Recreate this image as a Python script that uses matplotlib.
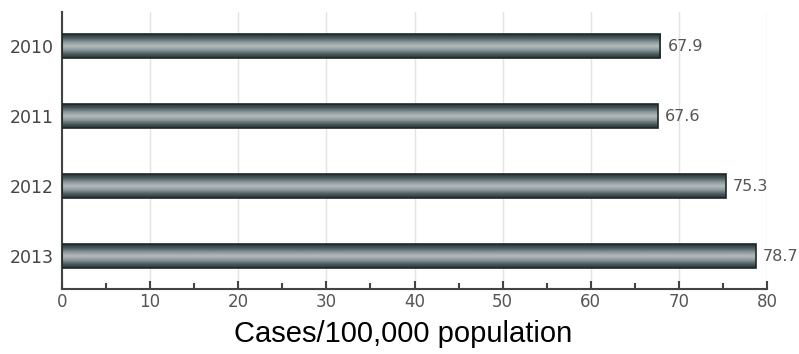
import matplotlib.pyplot as plt
import numpy as np
from matplotlib.colors import LinearSegmentedColormap

years = ['2010', '2011', '2012', '2013']
rates = [67.9, 67.6, 75.3, 78.7]

plt.rcParams['font.family'] = ['DejaVu Sans']

fig = plt.figure(figsize=(7.99, 3.54), dpi=100)
ax = fig.add_axes([0.0776, 0.1836, 0.8824, 0.7824])

# metallic look: dark at the edges, lighter in the middle
cmap = LinearSegmentedColormap.from_list(
    'metal', ['#263434', '#4d5d60', '#8c989b', '#b5bcbf', '#8c989b', '#4d5d60', '#263434'])
grad = np.linspace(0, 1, 64).reshape(-1, 1)

ypos = np.arange(len(years))
h = 0.34
bars = ax.barh(ypos, rates, height=h, color='none', edgecolor='#1f2828', linewidth=1.2, zorder=3)
for b in bars:
    x0, y0 = b.get_x(), b.get_y()
    w, hh = b.get_width(), b.get_height()
    im = ax.imshow(grad, cmap=cmap, aspect='auto', extent=[x0, x0 + w, y0, y0 + hh],
                   origin='lower', zorder=2, interpolation='bicubic')
    im.set_clip_path(b)

for y, v in zip(ypos, rates):
    ax.text(v + 0.8, y, f'{v:.1f}', va='center', ha='left', fontsize=11.5, color='#555555')

ax.set_xlim(0, 80)
ax.set_ylim(3.47, -0.49)
ax.set_yticks(ypos)
ax.set_yticklabels(years)
ax.set_xticks(np.arange(0, 81, 10))
ax.set_xticks(np.arange(5, 80, 10), minor=True)

ax.grid(axis='x', color='#e3e3e3', linewidth=1, zorder=0)
ax.set_axisbelow(True)
for s in ['top', 'right']:
    ax.spines[s].set_visible(False)
ax.spines['left'].set_color('#444444')
ax.spines['bottom'].set_color('#444444')
ax.spines['left'].set_linewidth(1.5)
ax.spines['bottom'].set_linewidth(1.5)

ax.tick_params(axis='x', which='major', direction='in', length=6, width=1.5, color='#444444',
               labelsize=12, labelcolor='#555555', pad=3)
ax.tick_params(axis='x', which='minor', direction='in', length=4, width=1.5, color='#444444')
ax.tick_params(axis='y', length=0, labelsize=12.5, labelcolor='#444444', pad=6)

ax.set_xlabel('Cases/100,000 population', fontsize=21, color='black',
              family='Liberation Sans')
ax.xaxis.set_label_coords(0.484, -0.112)

fig.savefig('out.png', dpi=100)
